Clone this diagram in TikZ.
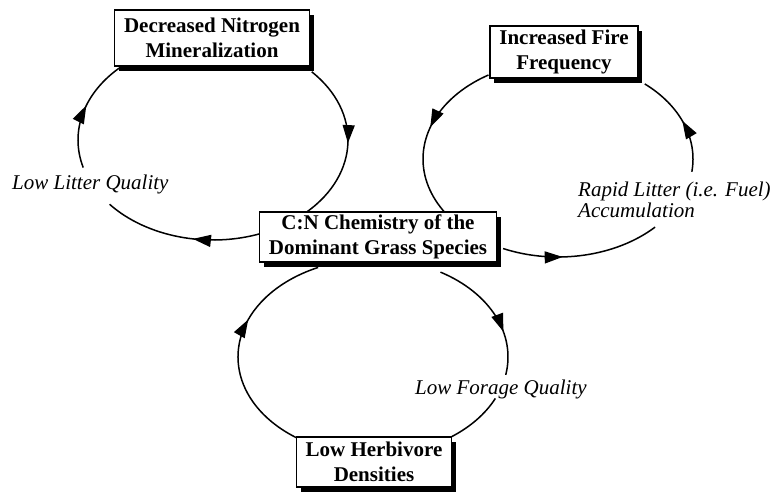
\documentclass[tikz,border=0pt]{standalone}
\usepackage{fontspec}
\setmainfont{Liberation Serif}
\usetikzlibrary{arrows.meta,decorations.markings,shadows}
\begin{document}
\begin{tikzpicture}[x=1pt,y=-1pt,
  box/.style={draw, line width=1.2pt, fill=white, align=center, inner sep=0pt,
    font=\fontsize{21}{25}\selectfont\bfseries,
    drop shadow={shadow xshift=4pt, shadow yshift=-5pt, fill=black, opacity=1}},
  lab/.style={font=\fontsize{21}{21}\selectfont\itshape, inner sep=0pt, align=left},
  loopline/.style={line width=1.5pt},
  midarrow/.style={postaction={decorate}, decoration={markings,
    mark=at position #1 with {\arrow{Triangle[length=18pt,width=12pt]}}}}]
\useasboundingbox (0,0) rectangle (778,501);
% ellipse centres
\coordinate (e1) at (213,140);
\coordinate (e2) at (558,159);
\coordinate (e3) at (373,357);
% loop 1 (top left)
\draw[loopline, midarrow=0.5] ([shift={(43:135pt and 100pt)}]e1) arc[start angle=43, end angle=-46, x radius=135pt, y radius=100pt];
\draw[loopline, midarrow=0.43] ([shift={(-69:135pt and 100pt)}]e1) arc[start angle=-69, end angle=-140, x radius=135pt, y radius=100pt];
\draw[loopline, midarrow=0.55] ([shift={(196:135pt and 100pt)}]e1) arc[start angle=196, end angle=133, x radius=135pt, y radius=100pt];
% loop 2 (top right)
\draw[loopline, midarrow=0.38] ([shift={(-114:135pt and 98pt)}]e2) arc[start angle=-114, end angle=-44, x radius=135pt, y radius=98pt];
\draw[loopline, midarrow=0.5] ([shift={(-7.5:135pt and 98pt)}]e2) arc[start angle=-7.5, end angle=50, x radius=135pt, y radius=98pt];
\draw[loopline, midarrow=0.45] ([shift={(121:135pt and 98pt)}]e2) arc[start angle=121, end angle=216, x radius=135pt, y radius=98pt];
% loop 3 (bottom)
\draw[loopline, midarrow=0.67] ([shift={(60:135pt and 98pt)}]e3) arc[start angle=60, end angle=-10.5, x radius=135pt, y radius=98pt];
\draw[loopline] ([shift={(-25:135pt and 98pt)}]e3) arc[start angle=-25, end angle=-56, x radius=135pt, y radius=98pt];
\draw[loopline, midarrow=0.62] ([shift={(236:135pt and 98pt)}]e3) arc[start angle=236, end angle=114, x radius=135pt, y radius=98pt];
% boxes
\node[box, minimum width=195pt, minimum height=56pt] (nmin) at (212,38) {Decreased Nitrogen\\Mineralization};
\node[box, minimum width=148pt, minimum height=52pt] (fire) at (564,52) {Increased Fire\\Frequency};
\node[box, minimum width=237pt, minimum height=50pt] (cn) at (378,237) {C:N Chemistry of the\\Dominant Grass Species};
\node[box, minimum width=155pt, minimum height=50pt] (herb) at (374,462) {Low Herbivore\\Densities};
% labels
\node[lab, anchor=base west] (llq) at (12,189) {Low Litter Quality};
\node[lab, anchor=north west] (rla) at (578,182) {Rapid Litter (i.e. Fuel)\\Accumulation};
\node[lab, anchor=base west] (lfq) at (415,394) {Low Forage Quality};
\end{tikzpicture}
\end{document}
